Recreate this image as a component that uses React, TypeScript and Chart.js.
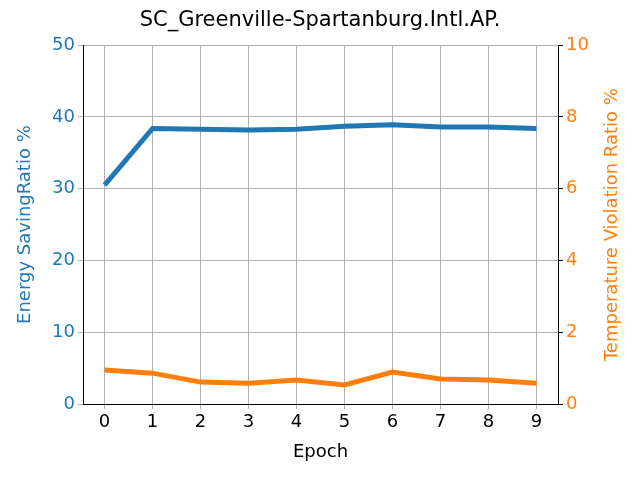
import React, { useEffect, useRef } from 'react';
import Chart from 'chart.js/auto';

const epochs = [0, 1, 2, 3, 4, 5, 6, 7, 8, 9];
const energySaving = [30.5, 38.4, 38.3, 38.2, 38.3, 38.7, 38.9, 38.6, 38.6, 38.4];
const tempViolation = [0.95, 0.86, 0.61, 0.58, 0.67, 0.53, 0.89, 0.70, 0.67, 0.58];

const BLUE = '#1f77b4';
const ORANGE = '#ff7f0e';
const FONT = 'DejaVu Sans';

// axis titles drawn by hand so the right one reads bottom-to-top like matplotlib
const axisTitles = {
  id: 'axisTitles',
  afterDraw(chart: any) {
    const { ctx, chartArea } = chart;
    const midY = (chartArea.top + chartArea.bottom) / 2;
    ctx.save();
    ctx.font = `18px "${FONT}"`;
    ctx.textAlign = 'center';
    ctx.textBaseline = 'middle';
    ctx.fillStyle = '#000';
    ctx.fillText('Epoch', (chartArea.left + chartArea.right) / 2, 452);
    const drawV = (text: string, x: number, color: string) => {
      ctx.save();
      ctx.translate(x, midY);
      ctx.rotate(-Math.PI / 2);
      ctx.fillStyle = color;
      ctx.fillText(text, 0, 0);
      ctx.restore();
    };
    drawV('Energy SavingRatio %', 25, BLUE);
    drawV('Temperature Violation Ratio %', 612, ORANGE);
    ctx.restore();
  },
};

const App = () => {
  const chartRef = useRef<HTMLCanvasElement | null>(null);

  useEffect(() => {
    const ctx = chartRef.current!.getContext('2d')!;
    const chart = new Chart(ctx, {
      type: 'line',
      data: {
        datasets: [
          {
            label: 'Energy',
            data: epochs.map((e, i) => ({ x: e, y: energySaving[i] })),
            borderColor: BLUE,
            borderWidth: 5,
            pointRadius: 0,
            yAxisID: 'y',
          },
          {
            label: 'Temp',
            data: epochs.map((e, i) => ({ x: e, y: tempViolation[i] })),
            borderColor: ORANGE,
            borderWidth: 5,
            pointRadius: 0,
            yAxisID: 'y1',
          },
        ],
      },
      plugins: [axisTitles],
      options: {
        animation: false,
        responsive: false,
        layout: { padding: 0 },
        plugins: {
          legend: { display: false },
          tooltip: { enabled: false },
          title: {
            display: true,
            text: 'SC_Greenville-Spartanburg.Intl.AP.',
            color: '#000',
            font: { family: FONT, size: 21, weight: 'normal' },
            padding: { top: 8, bottom: 12 },
          },
        },
        scales: {
          x: {
            type: 'linear',
            min: -0.45,
            max: 9.45,
            afterBuildTicks: (axis: any) => {
              axis.ticks = epochs.map(v => ({ value: v }));
            },
            afterFit: (axis: any) => { axis.height = 76; },
            grid: { color: '#b0b0b0', drawTicks: true, tickLength: 5 },
            border: { color: '#000' },
            ticks: { color: '#000', font: { family: FONT, size: 18 }, maxRotation: 0 },
          },
          y: {
            position: 'left',
            min: 0,
            max: 50,
            afterFit: (axis: any) => { axis.width = 83; },
            grid: { color: '#b0b0b0', tickLength: 5 },
            border: { color: '#000' },
            ticks: { stepSize: 10, color: BLUE, font: { family: FONT, size: 18 } },
          },
          y1: {
            position: 'right',
            min: 0,
            max: 10,
            afterFit: (axis: any) => { axis.width = 82; },
            grid: { drawOnChartArea: false, tickLength: 5, color: '#000' },
            border: { color: '#000' },
            ticks: { stepSize: 2, color: ORANGE, font: { family: FONT, size: 18 } },
          },
        },
      },
    });
    return () => chart.destroy();
  }, []);

  return (
    <div style={{ position: 'fixed', left: 0, top: 0, width: 640, height: 480, background: '#fff' }}>
      <canvas ref={chartRef} width={640} height={480} style={{ width: 640, height: 480 }} />
    </div>
  );
};

export default App;
